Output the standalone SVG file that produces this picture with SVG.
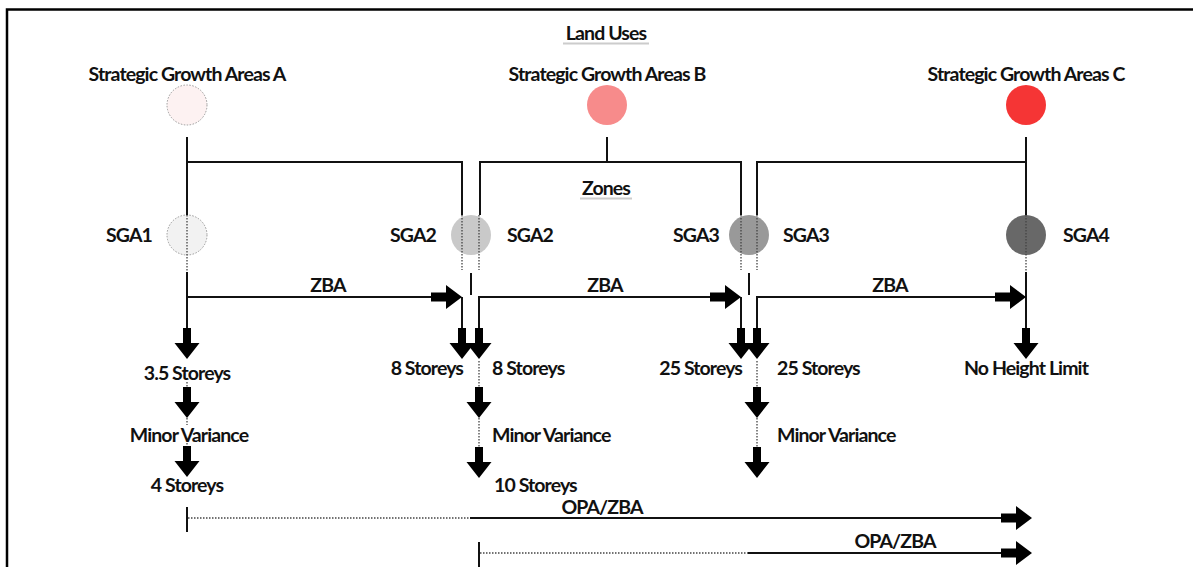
<svg xmlns="http://www.w3.org/2000/svg" width="1193" height="567" viewBox="0 0 1193 567">
<style>
text{font-family:Lato,"Liberation Sans",sans-serif;font-weight:700;font-size:19.5px;fill:#111;letter-spacing:-0.9px}
.c{text-anchor:middle}.e{text-anchor:end}
.ln{fill:none;stroke:#111;stroke-width:2}
.dt{fill:none;stroke:#444;stroke-width:1.3;stroke-dasharray:1.5 1.5}
.ul{stroke:#ccc;stroke-width:2}
.dc{stroke:#999;stroke-width:1;stroke-dasharray:1.5 1.5}
</style>
<defs>
<path id="da" d="M-4,-31H4V-16H12.5L0,0L-12.5,-16H-4Z" fill="#000"/>
<path id="ra" d="M-31,-4.5H-16V-12L0,0L-16,12V4.5H-31Z" fill="#000"/>
</defs>
<rect width="1193" height="567" fill="#fff"/>
<path d="M7,567V9.5H1193" fill="none" stroke="#000" stroke-width="2.5"/>

<g id="titles">
<text class="c" x="606" y="40">Land Uses</text>
<line class="ul" x1="563" y1="43.5" x2="649" y2="43.5"/>
<text class="c" x="606" y="194.5">Zones</text>
<line class="ul" x1="580" y1="198.5" x2="632" y2="198.5"/>
</g>

<g id="sgaA"><text class="c" x="187" y="80.5">Strategic Growth Areas A</text><circle class="dc" cx="187" cy="105" r="20" fill="#fdf2f2"/></g>
<g id="sgaB"><text class="c" x="607" y="80.5">Strategic Growth Areas B</text><circle cx="607" cy="105" r="20" fill="#f78b8b"/></g>
<g id="sgaC"><text class="c" x="1026" y="80.5">Strategic Growth Areas C</text><circle cx="1026" cy="105" r="20" fill="#f53535"/></g>

<g id="sga1"><text class="c" x="129" y="241.5">SGA1</text><circle class="dc" cx="187" cy="235" r="20" fill="#f2f2f2"/></g>
<g id="sga2"><text class="c" x="413" y="241.5">SGA2</text><text class="c" x="530" y="241.5">SGA2</text><circle cx="471" cy="235" r="20" fill="#c9c9c9"/></g>
<g id="sga3"><text class="c" x="696" y="241.5">SGA3</text><text class="c" x="806" y="241.5">SGA3</text><circle cx="749" cy="235" r="20" fill="#999"/></g>
<g id="sga4"><text class="c" x="1086" y="241.5">SGA4</text><circle cx="1026" cy="235" r="20" fill="#686868"/></g>

<g id="connectors">
<path class="ln" d="M187,137V215M187,162H462V215M607,137V162M480,215V162H741V215M1026,137V215M1026,162H757V215"/>
<path class="dt" d="M187,215V272M462,215V270M479,215V270M741,215V270M757,215V270M1026,215V272"/>
<path class="ln" d="M471,273V295M749,273V295"/>
<path class="ln" d="M187,272V330M187,297H440M462,297V330M479,330V297H720M741,297V330M757,330V297H1000M1026,272V330"/>
<use href="#ra" x="462" y="297"/><use href="#ra" x="741" y="297"/><use href="#ra" x="1026" y="297"/>
<use href="#da" x="187" y="359"/><use href="#da" x="462" y="359"/><use href="#da" x="479" y="359"/>
<use href="#da" x="741" y="359"/><use href="#da" x="757" y="359"/><use href="#da" x="1026" y="359"/>
<path class="dt" d="M187,382V389M187,418V425M187,443V447M479,361V389M479,418V447M757,361V389M757,418V447"/>
<use href="#da" x="187" y="418"/><use href="#da" x="187" y="477"/>
<use href="#da" x="479" y="418"/><use href="#da" x="479" y="478"/>
<use href="#da" x="757" y="418"/><use href="#da" x="757" y="478"/>
<path class="ln" d="M187,507V532M479,542V567"/>
<path class="dt" d="M188,518H470M480,553H748"/>
<path class="ln" d="M470,518H1005M748,553H1005"/>
<use href="#ra" x="1032" y="518"/><use href="#ra" x="1032" y="553"/>
</g>

<g id="labels">
<text class="c" x="328" y="291.5">ZBA</text>
<text class="c" x="605" y="291.5">ZBA</text>
<text class="c" x="890" y="291.5">ZBA</text>
<text class="c" x="187" y="379.5">3.5 Storeys</text>
<text class="e" x="463" y="374.5">8 Storeys</text>
<text x="492" y="374.5">8 Storeys</text>
<text class="e" x="742" y="374.5">25 Storeys</text>
<text x="777" y="374.5">25 Storeys</text>
<text class="c" x="1026" y="374.5">No Height Limit</text>
<text class="c" x="189" y="441.5">Minor Variance</text>
<text x="492" y="441.5">Minor Variance</text>
<text x="777" y="441.5">Minor Variance</text>
<text class="c" x="187" y="491.5">4 Storeys</text>
<text x="494" y="491.5">10 Storeys</text>
<text class="c" x="602" y="513.5">OPA/ZBA</text>
<text class="c" x="895" y="547.5">OPA/ZBA</text>
</g>
</svg>
